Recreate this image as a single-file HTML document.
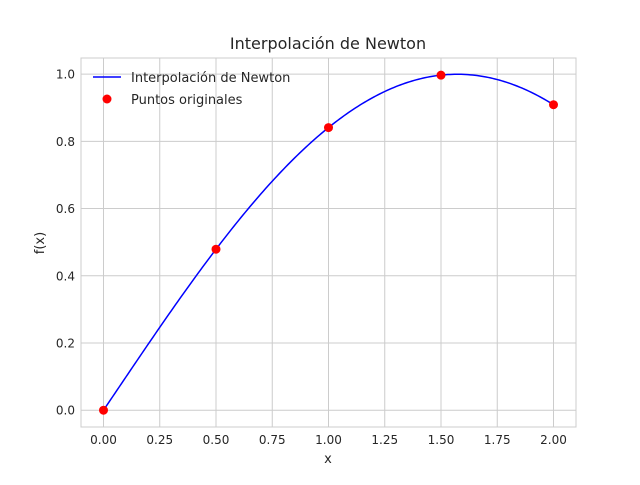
<!DOCTYPE html>
<html><head><meta charset="utf-8"><style>
body{margin:0;background:#fff}
text{font-family:"DejaVu Sans","Liberation Sans",sans-serif;fill:#262626}
</style></head><body>
<svg id="chart" width="640" height="480">
<rect width="640" height="480" fill="#fff"/>
<text x="328" y="49" font-size="16" text-anchor="middle">Interpolación de Newton</text>
<g id="grid"></g>
<rect x="81" y="58" width="495" height="369" fill="none" stroke="#cccccc" stroke-width="1"/>
<g id="ticks"></g>
<g id="series"></g>
<text x="328" y="463" font-size="13" text-anchor="middle">x</text>
<text x="44" y="243" font-size="13" text-anchor="middle" transform="rotate(-90 44 243)">f(x)</text>
<g>
<line x1="93" y1="77" x2="121" y2="77" stroke="#0000ff" stroke-width="1.5"/>
<text x="131" y="82" font-size="13">Interpolación de Newton</text>
<circle cx="107" cy="99" r="4.5" fill="#ff0000"/>
<text x="131" y="104" font-size="13">Puntos originales</text>
</g>
</svg>
<script>
const xData=[0,0.5,1,1.5,2];
const yData=[0,0.479,0.841,0.997,0.909];
const xTicks=[0,0.25,0.5,0.75,1,1.25,1.5,1.75,2];
const yTicks=[0,0.2,0.4,0.6,0.8,1.0];
const xMin=-0.1,xMax=2.1,yMin=-0.05,yMax=1.048;
const L=81,R=576,T=58,B=427;
const sx=v=>L+(v-xMin)/(xMax-xMin)*(R-L);
const sy=v=>B-(v-yMin)/(yMax-yMin)*(B-T);
const NS='http://www.w3.org/2000/svg';
function mk(t,a,p){const e=document.createElementNS(NS,t);for(const k in a)e.setAttribute(k,a[k]);p.appendChild(e);return e;}
const grid=document.getElementById('grid'),ticks=document.getElementById('ticks'),series=document.getElementById('series');
xTicks.forEach(v=>{
 const g=mk('line',{x1:sx(v),x2:sx(v),y1:T,y2:B,stroke:'#cccccc','stroke-width':1},grid);
 
 
 const t=mk('text',{x:sx(v),y:B+17,'font-size':12,'text-anchor':'middle'},ticks);
 t.textContent=v.toFixed(2);
 
 
});
yTicks.forEach(v=>{
 const g=mk('line',{x1:L,x2:R,y1:sy(v),y2:sy(v),stroke:'#cccccc','stroke-width':1},grid);
 
 
 const t=mk('text',{x:L-6,y:sy(v)+4.5,'font-size':12,'text-anchor':'end'},ticks);
 t.textContent=v.toFixed(1);
 
 
});
// Newton divided differences
const n=xData.length,c=yData.slice();
for(let j=1;j<n;j++)for(let i=n-1;i>=j;i--)c[i]=(c[i]-c[i-1])/(xData[i]-xData[i-j]);
function P(x){let r=c[n-1];for(let i=n-2;i>=0;i--)r=r*(x-xData[i])+c[i];return r;}
let d='';const a=xData[0],b=xData[n-1];
for(let k=0;k<=200;k++){const x=a+(b-a)*k/200;d+=(k?'L':'M')+sx(x).toFixed(2)+','+sy(P(x)).toFixed(2);}
const path=mk('path',{d:d,fill:'none',stroke:'#0000ff','stroke-width':1.5},series);


xData.forEach((x,i)=>{
 const p=mk('circle',{cx:sx(x),cy:sy(yData[i]),r:4.5,fill:'#ff0000'},series);
 
 
});
</script>
</body></html>
